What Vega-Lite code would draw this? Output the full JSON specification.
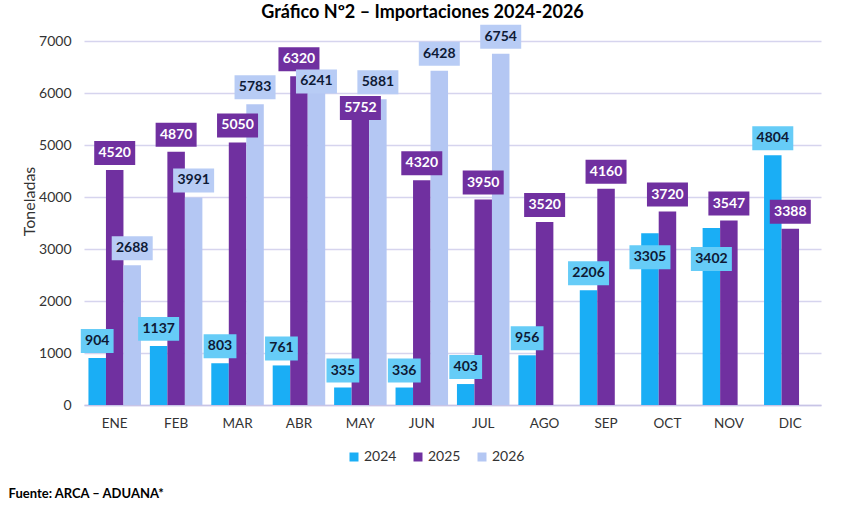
{
  "$schema": "https://vega.github.io/schema/vega-lite/v6.json",
  "width": 737,
  "height": 364,
  "autosize": {"type": "none"},
  "padding": {"left": 84, "top": 41, "right": 28, "bottom": 101},
  "background": "white",
  "config": {"view": {"stroke": null}},
  "title": {"text": "Gráfico Nº2 – Importaciones 2024-2026", "font": "Lato", "fontSize": 18, "fontWeight": "bold", "color": "#000000", "anchor": "middle", "dx": -30, "offset": 3},
  "data": {"values": [
    {"month": "ENE", "year": "2024", "value": 904},
    {"month": "ENE", "year": "2025", "value": 4520},
    {"month": "ENE", "year": "2026", "value": 2688},
    {"month": "FEB", "year": "2024", "value": 1137},
    {"month": "FEB", "year": "2025", "value": 4870},
    {"month": "FEB", "year": "2026", "value": 3991},
    {"month": "MAR", "year": "2024", "value": 803},
    {"month": "MAR", "year": "2025", "value": 5050},
    {"month": "MAR", "year": "2026", "value": 5783},
    {"month": "ABR", "year": "2024", "value": 761},
    {"month": "ABR", "year": "2025", "value": 6320},
    {"month": "ABR", "year": "2026", "value": 6241},
    {"month": "MAY", "year": "2024", "value": 335},
    {"month": "MAY", "year": "2025", "value": 5752},
    {"month": "MAY", "year": "2026", "value": 5881},
    {"month": "JUN", "year": "2024", "value": 336},
    {"month": "JUN", "year": "2025", "value": 4320},
    {"month": "JUN", "year": "2026", "value": 6428},
    {"month": "JUL", "year": "2024", "value": 403},
    {"month": "JUL", "year": "2025", "value": 3950},
    {"month": "JUL", "year": "2026", "value": 6754},
    {"month": "AGO", "year": "2024", "value": 956},
    {"month": "AGO", "year": "2025", "value": 3520},
    {"month": "SEP", "year": "2024", "value": 2206},
    {"month": "SEP", "year": "2025", "value": 4160},
    {"month": "OCT", "year": "2024", "value": 3305},
    {"month": "OCT", "year": "2025", "value": 3720},
    {"month": "NOV", "year": "2024", "value": 3402},
    {"month": "NOV", "year": "2025", "value": 3547},
    {"month": "DIC", "year": "2024", "value": 4804},
    {"month": "DIC", "year": "2025", "value": 3388}
  ]},
  "encoding": {
    "x": {
      "field": "month", "type": "nominal",
      "sort": ["ENE", "FEB", "MAR", "ABR", "MAY", "JUN", "JUL", "AGO", "SEP", "OCT", "NOV", "DIC"],
      "scale": {"paddingInner": 0.145, "paddingOuter": 0.0725},
      "axis": {
        "title": "Fuente: ARCA – ADUANA*", "titleFont": "Lato", "titleFontSize": 13, "titleFontWeight": "bold", "titleColor": "#000000",
        "titleX": -76, "titleY": 88, "titleAlign": "left", "titleBaseline": "middle", "titleAnchor": null,
        "labelFont": "Lato", "labelFontSize": 13.5, "labelColor": "#333333", "labelPadding": 11, "labelAngle": 0,
        "ticks": false, "domainColor": "#C8C4E6", "domainWidth": 1.3, "grid": false
      }
    },
    "xOffset": {"field": "year", "type": "nominal", "sort": ["2024", "2025", "2026"], "scale": {"domain": ["2024", "2025", "2026"], "paddingInner": 0, "paddingOuter": 0}},
    "y": {
      "field": "value", "type": "quantitative",
      "scale": {"domain": [0, 7000], "nice": false},
      "axis": {
        "title": "Toneladas", "titleFont": "Lato", "titleFontSize": 16, "titleFontWeight": "normal", "titleColor": "#333333",
        "titleX": -55, "titleY": 160, "titleAlign": "center", "titleBaseline": "middle", "titleAngle": 270,
        "values": [0, 1000, 2000, 3000, 4000, 5000, 6000, 7000], "format": "d",
        "labelFont": "Lato", "labelFontSize": 14, "labelColor": "#333333", "labelPadding": 13,
        "domain": false, "ticks": false, "gridColor": "#D6D4EE", "gridWidth": 1.3
      }
    }
  },
  "layer": [
    {
      "mark": {"type": "bar"},
      "encoding": {
        "color": {
          "field": "year", "type": "nominal",
          "scale": {"domain": ["2024", "2025", "2026"], "range": ["#1AAEF5", "#7030A0", "#B4C7F3"]},
          "legend": {
            "title": null, "orient": "none", "direction": "horizontal", "legendX": 263, "legendY": 409,
            "symbolType": "square", "symbolSize": 81, "labelFont": "Lato", "labelFontSize": 14, "labelColor": "#333333",
            "labelOffset": 3, "columnPadding": 14, "padding": 0
          }
        }
      }
    },
    {
      "mark": {
        "type": "point", "filled": true, "opacity": 1, "strokeWidth": 0, "size": 1681,
        "shape": {"expr": "datum.value < 1000 ? 'M-0.8,-0.585L0.8,-0.585L0.8,0.585L-0.8,0.585Z' : 'M-1,-0.585L1,-0.585L1,0.585L-1,0.585Z'"},
        "yOffset": {"expr": "datum.month === 'OCT' && datum.year === '2024' ? 24 : datum.month === 'NOV' && datum.year === '2024' ? 31 : datum.month === 'ABR' && datum.year === '2026' ? 1 : datum.month === 'MAY' && datum.year === '2025' ? 2 : -17"}
      },
      "encoding": {
        "fill": {"field": "year", "type": "nominal", "scale": {"domain": ["2024", "2025", "2026"], "range": ["#66CCF7", "#7030A0", "#B8CCF5"]}, "legend": null}
      }
    },
    {
      "mark": {
        "type": "text", "font": "Lato", "fontWeight": "bold", "fontSize": 14, "baseline": "middle", "align": "center",
        "yOffset": {"expr": "datum.month === 'OCT' && datum.year === '2024' ? 24 : datum.month === 'NOV' && datum.year === '2024' ? 31 : datum.month === 'ABR' && datum.year === '2026' ? 1 : datum.month === 'MAY' && datum.year === '2025' ? 2 : -17"}
      },
      "encoding": {
        "text": {"field": "value", "type": "quantitative", "format": "d"},
        "color": {"condition": {"test": "datum.year === '2025'", "value": "#FFFFFF"}, "value": "#0E1A35"}
      }
    }
  ]
}
